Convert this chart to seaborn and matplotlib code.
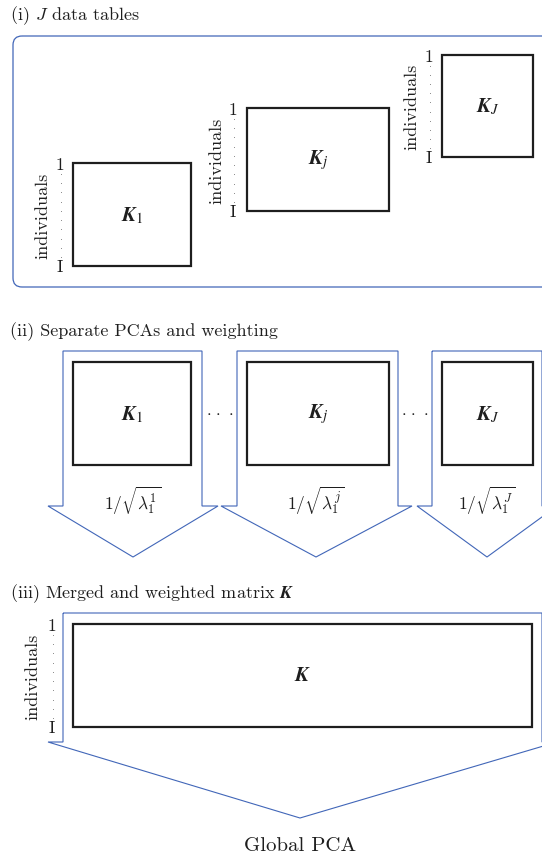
import numpy as np
import matplotlib
matplotlib.use("Agg")
import matplotlib.pyplot as plt
from matplotlib.patches import Rectangle, FancyBboxPatch, Polygon
import seaborn as sns

sns.set_theme(style="white")
plt.rcParams["font.family"] = ["serif"]
plt.rcParams["font.serif"] = ["cmr10", "DejaVu Serif"]
plt.rcParams["mathtext.fontset"] = "cm"
plt.rcParams["axes.unicode_minus"] = False

# text content of the diagram
section_titles = ["(i) $J$ data tables",
                  "(ii) Separate PCAs and weighting",
                  "(iii) Merged and weighted matrix $\\boldsymbol{K}$"]
table_subscripts = ["1", "j", "J"]
weight_labels = [r"$1/\sqrt{\lambda_1^1}$", r"$1/\sqrt{\lambda_1^j}$", r"$1/\sqrt{\lambda_1^J}$"]
row_first, row_last = "1", "I"
rows_label = "individuals"
final_label = "Global PCA"

# layout (pixel units of the 542x862 canvas)
BLUE = "#4166b8"
INK = "#1e1e1e"
tbl_x0 = [73, 247, 442]
tbl_x1 = [191, 389, 533]
tbl_y0_i = [164, 109, 56]
tbl_y1_i = [267, 212, 158]
tbl_y0_ii, tbl_y1_ii = 363, 466
arrow_shaft = [(63, 202), (237, 398), (432, 542)]
arrow_wing = [(48, 218), (221, 412), (417, 557)]
arrow_tip = [133, 316, 487]

fig = plt.figure(figsize=(5.42, 8.62), dpi=100)
ax = fig.add_axes([0, 0, 1, 1])
ax.set_xlim(0, 542)
ax.set_ylim(862, 0)
ax.axis("off")


def table(x0, x1, y0, y1, sub):
    ax.add_patch(Rectangle((x0, y0), x1 - x0, y1 - y0, fill=False, ec=INK, lw=1.6))
    lab = r"$\boldsymbol{K}$" if sub is None else r"$\boldsymbol{K}_{%s}$" % sub
    ax.text((x0 + x1) / 2, (y0 + y1) / 2, lab, ha="center", va="center",
            fontsize=15, color=INK, math_fontfamily="stix")


def rows(x_num, x_lab, y0, y1):
    ax.text(x_num, y0 + 1, row_first, ha="center", va="center", fontsize=12.5, color=INK)
    ax.text(x_num, y1, row_last, ha="center", va="center", fontsize=12.5, color=INK)
    yy = np.linspace(y0 + 11, y1 - 9, 10)
    ax.scatter(np.full(len(yy), x_num + 1), yy, s=0.5, color="#8a8a8a", lw=0)
    ax.text(x_lab, (y0 + y1) / 2, rows_label, ha="center", va="center",
            rotation=90, fontsize=13, color=INK)


def arrow(sx0, sx1, wx0, wx1, tip, top, neck, bottom):
    pts = [(sx0, top), (sx1, top), (sx1, neck), (wx1, neck), (tip, bottom),
           (wx0, neck), (sx0, neck)]
    ax.add_patch(Polygon(pts, closed=True, fill=False, ec=BLUE, lw=0.8))


# (i) J data tables
ax.text(10, 16, section_titles[0], ha="left", va="center", fontsize=13, color=INK)
ax.add_patch(FancyBboxPatch((13, 37), 560, 251, boxstyle="round,pad=0,rounding_size=9",
                            fill=False, ec=BLUE, lw=0.9))
num_off = [13, 14, 13]
lab_off = [30, 30, 30]
for k, sub in enumerate(table_subscripts):
    table(tbl_x0[k], tbl_x1[k], tbl_y0_i[k], tbl_y1_i[k], sub)
    rows(tbl_x0[k] - num_off[k], tbl_x0[k] - lab_off[k], tbl_y0_i[k], tbl_y1_i[k])

# (ii) separate PCAs and weighting
ax.text(10, 332, section_titles[1], ha="left", va="center", fontsize=13, color=INK)
for k, sub in enumerate(table_subscripts):
    arrow(*arrow_shaft[k], *arrow_wing[k], arrow_tip[k], 352, 507, 558)
    table(tbl_x0[k], tbl_x1[k], tbl_y0_ii, tbl_y1_ii, sub)
    ax.text(arrow_tip[k], 501, weight_labels[k], ha="center", va="center",
            fontsize=12.5, color=INK)
for xd in [220, 415]:
    ax.text(xd, 411, r"$\cdot\,\cdot\,\cdot$", ha="center", va="center", fontsize=12, color=INK)

# (iii) merged and weighted matrix
ax.text(10, 594, section_titles[2], ha="left", va="center", fontsize=13, color=INK)
arrow(63, 542, 48, 557, 300, 614, 743, 819)
table(73, 532, 625, 728, None)
rows(52, 33, 625, 728)
ax.text(300, 846, final_label, ha="center", va="center", fontsize=15, color=INK)

fig.savefig("out.png", dpi=100)
